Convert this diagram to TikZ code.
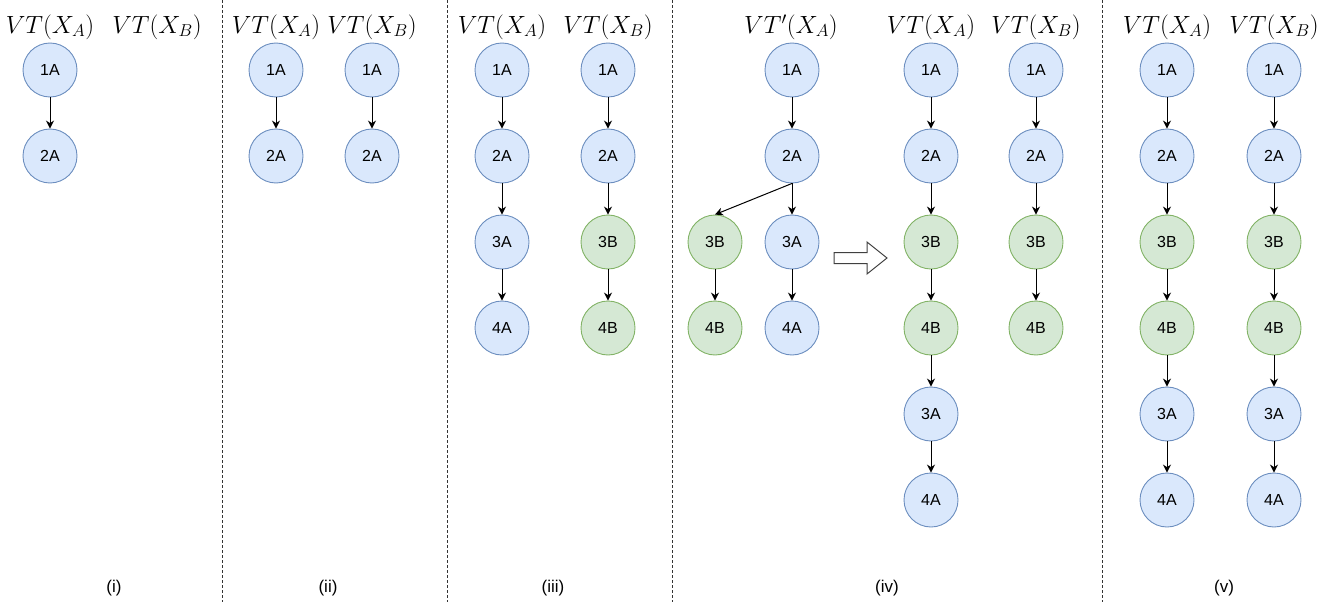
\documentclass[tikz,border=0pt]{standalone}
\usepackage{fontspec}
\setsansfont{Liberation Sans}
\usetikzlibrary{arrows.meta}
\definecolor{bfill}{HTML}{DAE8FC}
\definecolor{bdraw}{HTML}{6C8EBF}
\definecolor{gfill}{HTML}{D5E8D4}
\definecolor{gdraw}{HTML}{82B366}
\tikzset{
  vt/.style={circle,minimum size=54pt,inner sep=0pt,line width=0.9pt,font=\sffamily\fontsize{16}{19}\selectfont},
  bn/.style={vt,fill=bfill,draw=bdraw},
  gn/.style={vt,fill=gfill,draw=gdraw},
  hd/.style={font=\fontsize{25}{29}\selectfont},
  lab/.style={font=\sffamily\fontsize{17}{20}\selectfont},
  ed/.style={-{Stealth[length=8pt,width=8pt]},line width=1pt},
  sep/.style={line width=1pt,draw=black!80,dash pattern=on 3pt off 2pt},
}
\begin{document}
\begin{tikzpicture}[x=1pt,y=-1pt]
\useasboundingbox (0,0) rectangle (1326,602);
% separators
\coordinate (s1t) at (222,0); \coordinate (s1b) at (222,602);
\coordinate (s2t) at (447,0); \coordinate (s2b) at (447,602);
\coordinate (s3t) at (672,0); \coordinate (s3b) at (672,602);
\coordinate (s4t) at (1102,0); \coordinate (s4b) at (1102,602);
\draw[sep] (s1t) -- (s1b);
\draw[sep] (s2t) -- (s2b);
\draw[sep] (s3t) -- (s3b);
\draw[sep] (s4t) -- (s4b);

% panel i
\node[hd] (h1a) at (50,27) {$VT(X_A)$};
\node[hd] (h1b) at (157,27) {$VT(X_B)$};
\node[bn] (i1) at (50,70) {1A};
\node[bn] (i2) at (50,156) {2A};
\draw[ed] (i1) -- (i2);
\node[lab] (li) at (114,588) {(i)};

% panel ii
\node[hd] (h2a) at (276,27) {$VT(X_A)$};
\node[hd] (h2b) at (372,27) {$VT(X_B)$};
\node[bn] (ii1) at (276,70) {1A};
\node[bn] (ii2) at (276,156) {2A};
\node[bn] (ii3) at (372,70) {1A};
\node[bn] (ii4) at (372,156) {2A};
\draw[ed] (ii1) -- (ii2);
\draw[ed] (ii3) -- (ii4);
\node[lab] (lii) at (328,588) {(ii)};

% panel iii
\node[hd] (h3a) at (502,27) {$VT(X_A)$};
\node[hd] (h3b) at (608,27) {$VT(X_B)$};
\node[bn] (a1) at (502,70) {1A};
\node[bn] (a2) at (502,156) {2A};
\node[bn] (a3) at (502,242) {3A};
\node[bn] (a4) at (502,328) {4A};
\node[bn] (b1) at (608,70) {1A};
\node[bn] (b2) at (608,156) {2A};
\node[gn] (b3) at (608,242) {3B};
\node[gn] (b4) at (608,328) {4B};
\draw[ed] (a1) -- (a2); \draw[ed] (a2) -- (a3); \draw[ed] (a3) -- (a4);
\draw[ed] (b1) -- (b2); \draw[ed] (b2) -- (b3); \draw[ed] (b3) -- (b4);
\node[lab] (liii) at (553,588) {(iii)};

% panel iv
\node[hd] (h4) at (791,27) {$VT'(X_A)$};
\node[bn] (t1) at (792,70) {1A};
\node[bn] (t2) at (792,156) {2A};
\node[gn] (t3b) at (715,242) {3B};
\node[bn] (t3a) at (792,242) {3A};
\node[gn] (t4b) at (715,328) {4B};
\node[bn] (t4a) at (792,328) {4A};
\draw[ed] (t1) -- (t2);
\draw[ed] (t2.south) -- (t3b.north);
\draw[ed] (t2) -- (t3a);
\draw[ed] (t3b) -- (t4b);
\draw[ed] (t3a) -- (t4a);
\draw[line width=1pt,draw=black!75,fill=white] (834,252.5) -- (867,252.5) -- (867,242) -- (887,258) -- (867,274) -- (867,263.5) -- (834,263.5) -- cycle;
\node[hd] (h5a) at (931,27) {$VT(X_A)$};
\node[hd] (h5b) at (1036,27) {$VT(X_B)$};
\node[bn] (c1) at (931,70) {1A};
\node[bn] (c2) at (931,156) {2A};
\node[gn] (c3) at (931,242) {3B};
\node[gn] (c4) at (931,328) {4B};
\node[bn] (c5) at (931,414) {3A};
\node[bn] (c6) at (931,500) {4A};
\node[bn] (d1) at (1036,70) {1A};
\node[bn] (d2) at (1036,156) {2A};
\node[gn] (d3) at (1036,242) {3B};
\node[gn] (d4) at (1036,328) {4B};
\draw[ed] (c1) -- (c2); \draw[ed] (c2) -- (c3); \draw[ed] (c3) -- (c4);
\draw[ed] (c4) -- (c5); \draw[ed] (c5) -- (c6);
\draw[ed] (d1) -- (d2); \draw[ed] (d2) -- (d3); \draw[ed] (d3) -- (d4);
\node[lab] (liv) at (887,588) {(iv)};

% panel v
\node[hd] (h6a) at (1167,27) {$VT(X_A)$};
\node[hd] (h6b) at (1274,27) {$VT(X_B)$};
\node[bn] (e1) at (1167,70) {1A};
\node[bn] (e2) at (1167,156) {2A};
\node[gn] (e3) at (1167,242) {3B};
\node[gn] (e4) at (1167,328) {4B};
\node[bn] (e5) at (1167,414) {3A};
\node[bn] (e6) at (1167,500) {4A};
\node[bn] (f1) at (1274,70) {1A};
\node[bn] (f2) at (1274,156) {2A};
\node[gn] (f3) at (1274,242) {3B};
\node[gn] (f4) at (1274,328) {4B};
\node[bn] (f5) at (1274,414) {3A};
\node[bn] (f6) at (1274,500) {4A};
\draw[ed] (e1) -- (e2); \draw[ed] (e2) -- (e3); \draw[ed] (e3) -- (e4);
\draw[ed] (e4) -- (e5); \draw[ed] (e5) -- (e6);
\draw[ed] (f1) -- (f2); \draw[ed] (f2) -- (f3); \draw[ed] (f3) -- (f4);
\draw[ed] (f4) -- (f5); \draw[ed] (f5) -- (f6);
\node[lab] (lv) at (1224,588) {(v)};
\end{tikzpicture}
\end{document}
